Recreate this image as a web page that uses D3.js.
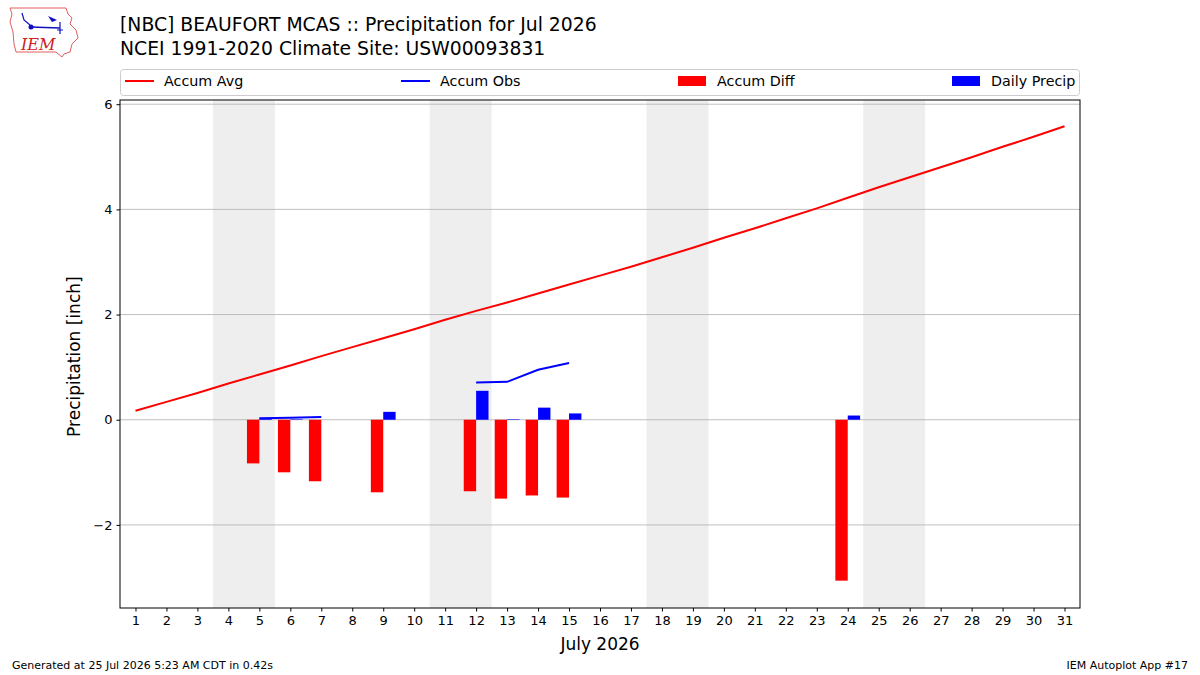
<!DOCTYPE html>
<html>
<head>
<meta charset="utf-8">
<script src="https://cdn.jsdelivr.net/npm/d3@7"></script>
<style>
  body { margin: 0; background: #fff; }
  svg { font-family: "DejaVu Sans", sans-serif; }
</style>
</head>
<body>
<div id="chart"></div>
<script>
// values
const days = d3.range(1, 32);
const accumAvg = [0.17, 0.34, 0.51, 0.69, 0.86, 1.03, 1.21, 1.38, 1.55, 1.72, 1.90,
  2.07, 2.23, 2.40, 2.57, 2.74, 2.91, 3.09, 3.27, 3.46, 3.64, 3.83, 4.02, 4.22,
  4.42, 4.61, 4.80, 4.99, 5.19, 5.38, 5.58];
const obsDays = [5, 6, 7, 8, 9, 10, 11, 12, 13, 14, 15];
const accumObs = [0.03, 0.04, 0.05, null, null, null, null, 0.71, 0.72, 0.95, 1.08];
const diffDays = [5, 6, 7, 9, 12, 13, 14, 15, 24];
const accumDiff = [-0.83, -1.00, -1.17, -1.38, -1.36, -1.50, -1.44, -1.48, -3.06];
const precipDays = [5, 6, 7, 9, 12, 13, 14, 15, 24];
const dailyPrecip = [0.03, 0.01, 0.0, 0.15, 0.55, 0.01, 0.23, 0.12, 0.08];
const weekends = [[3.5, 5.5], [10.5, 12.5], [17.5, 19.5], [24.5, 26.5]];
const yTicks = [-2, 0, 2, 4, 6];

const width = 1200, height = 675;
const margin = { top: 100, right: 120, bottom: 67, left: 120 };
const innerWidth = width - margin.left - margin.right;
const innerHeight = height - margin.top - margin.bottom;

const svg = d3.select("#chart").append("svg")
  .attr("width", width)
  .attr("height", height);

const x = d3.scaleLinear().domain([0.5, 31.5]).range([0, innerWidth]);
const y = d3.scaleLinear().domain([-3.58, 6.08]).range([innerHeight, 0]);

const g = svg.append("g")
  .attr("transform", `translate(${margin.left},${margin.top})`);

// weekend shading
g.selectAll(".wk").data(weekends).join("rect")
  .attr("x", d => x(d[0]))
  .attr("width", d => x(d[1]) - x(d[0]))
  .attr("y", 0)
  .attr("height", innerHeight)
  .attr("fill", "#eeeeee");

// grid
g.append("g").selectAll("line").data(yTicks).join("line")
  .attr("x1", 0).attr("x2", innerWidth)
  .attr("y1", d => y(d)).attr("y2", d => y(d))
  .attr("stroke", "#b0b0b0").attr("stroke-width", 0.8);

// accum diff bars (left of day)
g.append("g").selectAll("rect").data(diffDays).join("rect")
  .attr("x", d => x(d - 0.4))
  .attr("width", x(0.9) - x(0.5))
  .attr("y", (d, i) => y(Math.max(0, accumDiff[i])))
  .attr("height", (d, i) => Math.abs(y(accumDiff[i]) - y(0)))
  .attr("fill", "#ff0000");

// daily precip bars (right of day)
g.append("g").selectAll("rect").data(precipDays).join("rect")
  .attr("x", d => x(d))
  .attr("width", x(0.9) - x(0.5))
  .attr("y", (d, i) => y(dailyPrecip[i]))
  .attr("height", (d, i) => y(0) - y(dailyPrecip[i]))
  .attr("fill", "#0000ff");

// lines
g.append("path")
  .datum(days)
  .attr("fill", "none")
  .attr("stroke", "#ff0000")
  .attr("stroke-width", 2)
  .attr("d", d3.line().x(d => x(d)).y((d, i) => y(accumAvg[i])));

g.append("path")
  .datum(obsDays)
  .attr("fill", "none")
  .attr("stroke", "#0000ff")
  .attr("stroke-width", 2)
  .attr("d", d3.line()
    .defined((d, i) => accumObs[i] !== null)
    .x(d => x(d)).y((d, i) => y(accumObs[i])));

// frame
g.append("rect")
  .attr("width", innerWidth).attr("height", innerHeight)
  .attr("fill", "none").attr("stroke", "#000").attr("stroke-width", 1);

// axes
const yAxis = g.append("g")
  .call(d3.axisLeft(y).tickValues(yTicks).tickSize(3.5).tickPadding(4)
    .tickFormat(d => d < 0 ? "\u2212" + Math.abs(d) : d));
const xAxis = g.append("g")
  .attr("transform", `translate(0,${innerHeight})`)
  .call(d3.axisBottom(x).tickValues(days).tickSize(3.5).tickPadding(4));
[yAxis, xAxis].forEach(a => {
  a.select(".domain").remove();
  a.selectAll("text").style("font-size", "13px").attr("fill", "#000")
    .style("font-family", "'DejaVu Sans', sans-serif");
  a.selectAll("line").attr("stroke", "#000");
});

svg.append("text")
  .attr("transform", `translate(80,${margin.top + y(1.2)}) rotate(-90)`)
  .attr("text-anchor", "middle")
  .style("font-size", "17px")
  .text("Precipitation [inch]");

svg.append("text")
  .attr("x", margin.left + x(16))
  .attr("y", 650)
  .attr("text-anchor", "middle")
  .style("font-size", "17px")
  .text("July 2026");

// title
svg.append("text").attr("x", 120).attr("y", 31)
  .style("font-size", "18.8px")
  .text("[NBC] BEAUFORT MCAS :: Precipitation for Jul 2026");
svg.append("text").attr("x", 120).attr("y", 55)
  .style("font-size", "18.8px")
  .text("NCEI 1991-2020 Climate Site: USW00093831");

// legend
const legend = svg.append("g");
legend.append("rect")
  .attr("x", 120.5).attr("y", 69.5).attr("width", 959).attr("height", 26)
  .attr("rx", 3).attr("fill", "#fff").attr("stroke", "#cccccc");
const legendEntries = [
  { label: "Accum Avg", color: "#ff0000", type: "line", x: 125 },
  { label: "Accum Obs", color: "#0000ff", type: "line", x: 401 },
  { label: "Accum Diff", color: "#ff0000", type: "rect", x: 678 },
  { label: "Daily Precip", color: "#0000ff", type: "rect", x: 952 }
];
legendEntries.forEach(e => {
  if (e.type === "line") {
    legend.append("line").attr("x1", e.x).attr("x2", e.x + 29)
      .attr("y1", 81).attr("y2", 81)
      .attr("stroke", e.color).attr("stroke-width", 2);
  } else {
    legend.append("rect").attr("x", e.x).attr("y", 76)
      .attr("width", 28).attr("height", 10).attr("fill", e.color);
  }
  legend.append("text").attr("x", e.x + 39).attr("y", 86)
    .style("font-size", "14.3px").text(e.label);
});

// footer
svg.append("text").attr("x", 12).attr("y", 669)
  .style("font-size", "11px").text("Generated at 25 Jul 2026 5:23 AM CDT in 0.42s");
svg.append("text").attr("x", 1188).attr("y", 669).attr("text-anchor", "end")
  .style("font-size", "11px").text("IEM Autoplot App #17");

// logo (rough sketch)
const logo = svg.append("g");
logo.append("path")
  .attr("d", "M10,8 L66,8 L68,14 L72,18 L70,24 L76,30 L78,38 L72,44 L70,52 L64,54 L62,57 L56,52 L16,52 L14,44 L13,32 L10,22 L12,14 Z")
  .attr("fill", "none").attr("stroke", "#e06060").attr("stroke-width", 1);
logo.append("line").attr("x1", 30).attr("y1", 27).attr("x2", 60).attr("y2", 28)
  .attr("stroke", "#1010c0").attr("stroke-width", 1.5);
logo.append("circle").attr("cx", 31).attr("cy", 27).attr("r", 2.5).attr("fill", "#1010c0");
logo.append("path").attr("d", "M22,13 L24,20 L30,25").attr("fill", "none")
  .attr("stroke", "#1010c0").attr("stroke-width", 1.2);
logo.append("path").attr("d", "M48,16 L57,20 L52,22 Z").attr("fill", "#1010c0");
logo.append("path").attr("d", "M60,22 L60,34 M57,30 L63,30").attr("fill", "none")
  .attr("stroke", "#1010c0").attr("stroke-width", 1.2);
logo.append("text").attr("x", 21).attr("y", 50)
  .style("font-family", "'DejaVu Serif', serif").style("font-style", "italic")
  .style("font-size", "16px").attr("fill", "#d02020").text("IEM");
</script>
</body>
</html>
